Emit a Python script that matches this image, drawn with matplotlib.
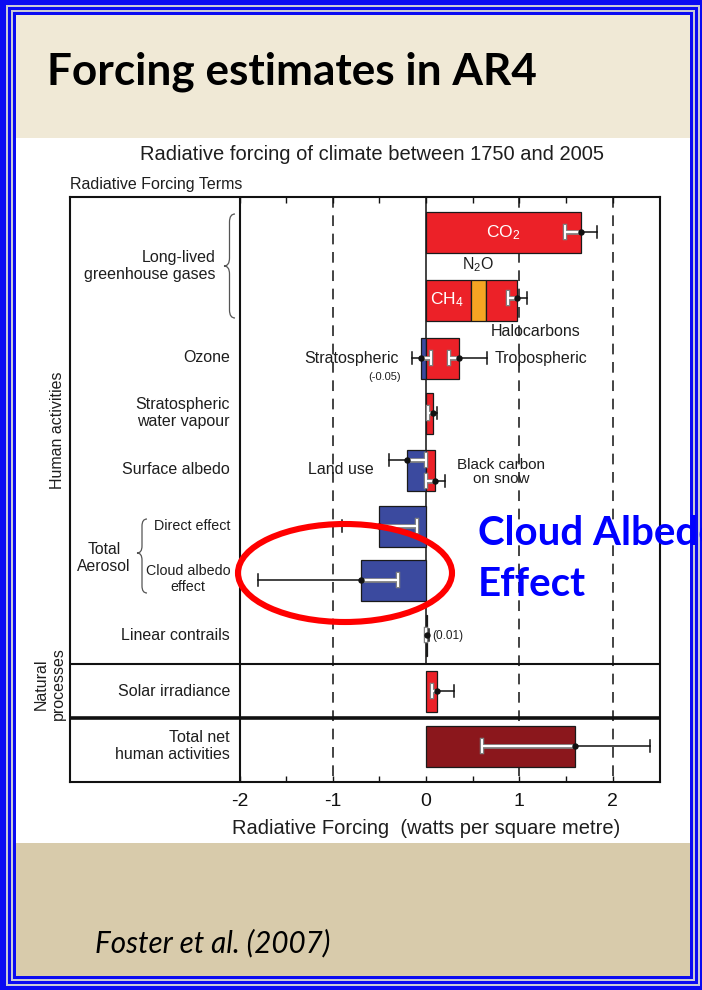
import matplotlib.pyplot as plt
from matplotlib.patches import Rectangle, Ellipse, PathPatch
from matplotlib.path import Path

plt.rcParams['font.family'] = ['Liberation Sans', 'DejaVu Sans']
plt.rcParams['axes.unicode_minus'] = False
plt.rcParams['mathtext.fontset'] = 'custom'
plt.rcParams['mathtext.rm'] = 'Liberation Sans'
plt.rcParams['mathtext.it'] = 'Liberation Sans:italic'

# radiative forcing terms, W m-2 : (best estimate, low, high)
co2 = (1.66, 1.49, 1.83)
ch4 = 0.48
n2o = 0.16
halocarbons = 0.34
llghg = (0.98, 0.88, 1.08)
ozone_strat = (-0.05, -0.15, 0.05)
ozone_trop = (0.35, 0.25, 0.65)
strat_h2o = (0.07, 0.02, 0.12)
land_use = (-0.2, -0.4, 0.0)
bc_snow = (0.1, 0.0, 0.2)
aer_direct = (-0.5, -0.9, -0.1)
aer_cloud = (-0.7, -1.8, -0.3)
contrails = (0.01, 0.003, 0.03)
solar = (0.12, 0.06, 0.30)
total_net = (1.6, 0.6, 2.4)

x_ticks = [-2, -1, 0, 1, 2]
x_minor = [-1.5, -0.5, 0.5, 1.5]

RED = '#EC2128'
BLUE = '#3B4A9F'
ORANGE = '#F6A423'
DARKRED = '#8B171C'
TXT = '#1e1e1e'

W, H = 702, 990
X0_PX, PX_PER_UNIT = 426, 93.25


def px2x(p):
    return (p - X0_PX) / PX_PER_UNIT


fig = plt.figure(figsize=(W / 100, H / 100), dpi=100)

# slide background: blue frame, cream header, white plot area, beige footer
bg = fig.add_axes([0, 0, 1, 1])
bg.set_xlim(0, W)
bg.set_ylim(H, 0)
bg.axis('off')
cx0, cy0, cx1, cy1 = 16, 15, 690, 976
for d, c in [(30, '#0A0AF2'), (10, '#C9C9D6'), (8, '#0A0AF2'), (5, '#C9C9D6'), (3, '#0A0AF2')]:
    bg.add_patch(Rectangle((cx0 - d, cy0 - d), cx1 - cx0 + 2 * d, cy1 - cy0 + 2 * d, fc=c, ec='none'))
bg.add_patch(Rectangle((cx0, cy0), cx1 - cx0, 138 - cy0, fc='#F0E9D6', ec='none'))
bg.add_patch(Rectangle((cx0, 138), cx1 - cx0, 843 - 138, fc='white', ec='none'))
bg.add_patch(Rectangle((cx0, 843), cx1 - cx0, cy1 - 843, fc='#D8CBAB', ec='none'))

bg.text(47, 85, 'Forcing estimates in AR4', fontsize=31.8, fontweight='bold',
        family='Lato', ha='left', va='baseline', color='black')
bg.text(95, 952, 'Foster et al. (2007)', fontsize=21.3, style='italic',
        family='Lato', ha='left', va='baseline', color='black')
bg.text(372, 155, 'Radiative forcing of climate between 1750 and 2005',
        fontsize=14.5, ha='center', va='center', color=TXT)
bg.text(70, 184, 'Radiative Forcing Terms', fontsize=11.5, ha='left', va='center', color=TXT)

# chart axes: y runs in pixel rows, x in W m-2
ax = fig.add_axes([70 / W, 1 - 782 / H, 590 / W, 585 / H])
ax.set_facecolor('none')
ax.set_xlim(px2x(70), px2x(660))
ax.set_ylim(782, 197)
for s in ax.spines.values():
    s.set_linewidth(1.5)
    s.set_color('#111111')
ax.set_yticks([])
ax.set_xticks(x_ticks)
ax.set_xticks(x_minor, minor=True)
ax.tick_params(axis='x', which='both', direction='in', top=True, length=4,
               width=1, labelsize=14, pad=8, colors='#111111')
ax.set_xlabel('Radiative Forcing  (watts per square metre)', fontsize=14.5, color=TXT, va='center')
ax.xaxis.set_label_coords((426 - 70) / 590, -(828 - 782) / 585)

# frame pieces
ax.axvline(-2, color='#111111', lw=1.5)
ax.axhline(664, color='#111111', lw=1.5)
ax.axhline(718, color='#111111', lw=2.6)
ax.vlines([-1, 1, 2], 197, 782, colors='#111111', lw=1.1, linestyles=(0, (7, 5)), zorder=1)
ax.vlines(0, 197, 664, colors='#111111', lw=1.1, zorder=1)

# row centres (pixel rows)
y_co2, y_ghg, y_o3, y_h2o, y_alb = 232, 300, 358, 413, 470
y_dir, y_cld, y_con, y_sol, y_tot = 526, 580, 635, 691, 746
BH = 41


def bar(y, width, color, left=0):
    ax.barh(y, width, left=left, height=BH, color=color, edgecolor='#1a1a1a', lw=0.9, zorder=3)


def err(est, y, span):
    v, lo, hi = est
    a, b = span
    if lo < a:
        ax.plot([lo, min(a, hi)], [y, y], color='#111111', lw=1.1, zorder=4)
    if hi > b:
        ax.plot([max(b, lo), hi], [y, y], color='#111111', lw=1.1, zorder=4)
    wlo, whi = max(lo, a), min(hi, b)
    if whi > wlo:
        ax.plot([wlo, whi], [y, y], color='#808080', lw=3.4, zorder=4, solid_capstyle='butt')
        ax.plot([wlo, whi], [y, y], color='white', lw=1.6, zorder=5, solid_capstyle='butt')
    for end in (lo, hi):
        if a <= end <= b:
            ax.plot([end, end], [y - 6, y + 6], color='#808080', lw=3.2, zorder=4)
            ax.plot([end, end], [y - 6, y + 6], color='white', lw=1.4, zorder=5)
        else:
            ax.plot([end, end], [y - 6, y + 6], color='#111111', lw=1.1, zorder=4)
    ax.plot(v, y, 'o', ms=3.6, color='#111111', zorder=6)


bar(y_co2, co2[0], RED)
err(co2, y_co2, (0, co2[0]))

bar(y_ghg, ch4, RED)
bar(y_ghg, n2o, ORANGE, left=ch4)
bar(y_ghg, halocarbons, RED, left=ch4 + n2o)
err(llghg, y_ghg - 2, (0, ch4 + n2o + halocarbons))

bar(y_o3, ozone_strat[0], BLUE)
bar(y_o3, ozone_trop[0], RED)
err(ozone_strat, y_o3, (ozone_strat[0], ozone_trop[0]))
err(ozone_trop, y_o3, (ozone_strat[0], ozone_trop[0]))

bar(y_h2o, strat_h2o[0], RED)
err(strat_h2o, y_h2o, (0, strat_h2o[0]))

bar(y_alb, land_use[0], BLUE)
bar(y_alb, bc_snow[0], RED)
err(land_use, y_alb - 10, (land_use[0], bc_snow[0]))
err(bc_snow, y_alb + 11, (land_use[0], bc_snow[0]))

bar(y_dir, aer_direct[0], BLUE)
err(aer_direct, y_dir, (aer_direct[0], 0))

bar(y_cld, aer_cloud[0], BLUE)
err(aer_cloud, y_cld, (aer_cloud[0], 0))

bar(y_con, contrails[0], RED)
err(contrails, y_con, (0, contrails[0]))

bar(y_sol, solar[0], RED)
err(solar, y_sol, (0, solar[0]))

bar(y_tot, total_net[0], DARKRED)
err(total_net, y_tot, (0, total_net[0]))

# labels inside the plot
ax.text(px2x(503), y_co2 + 1, 'CO$_2$', color='white', fontsize=12.5, ha='center', va='center', zorder=7)
ax.text(px2x(447), y_ghg, 'CH$_4$', color='white', fontsize=12.5, ha='center', va='center', zorder=7)
ax.text(px2x(478), 265, 'N$_2$O', color=TXT, fontsize=11.5, ha='center', va='center')
ax.text(px2x(491), 331, 'Halocarbons', color=TXT, fontsize=11.5, ha='left', va='center')
ax.text(px2x(399), y_o3, 'Stratospheric', color=TXT, fontsize=11.5, ha='right', va='center')
ax.text(px2x(385), 377, '(-0.05)', color=TXT, fontsize=8, ha='center', va='center')
ax.text(px2x(495), y_o3, 'Tropospheric', color=TXT, fontsize=11.5, ha='left', va='center')
ax.text(px2x(374), 469, 'Land use', color=TXT, fontsize=11.5, ha='right', va='center')
ax.text(px2x(501), 472, 'Black carbon\non snow', color=TXT, fontsize=11, ha='center',
        va='center', linespacing=0.95)
ax.text(px2x(432), 636, '(0.01)', color=TXT, fontsize=8.5, ha='left', va='center')

# row labels on the left panel
lab_x = px2x(230)
ax.text(px2x(216), 266, 'Long-lived\ngreenhouse gases', fontsize=11.5, ha='right', va='center',
        color=TXT, multialignment='right')
ax.text(lab_x, y_o3, 'Ozone', fontsize=11.5, ha='right', va='center', color=TXT)
ax.text(lab_x, y_h2o, 'Stratospheric\nwater vapour', fontsize=11.5, ha='right', va='center',
        color=TXT, multialignment='right')
ax.text(lab_x, y_alb, 'Surface albedo', fontsize=11.5, ha='right', va='center', color=TXT)
ax.text(lab_x, y_dir, 'Direct effect', fontsize=10.3, ha='right', va='center', color=TXT)
ax.text(px2x(188), 579, 'Cloud albedo\neffect', fontsize=10.3, ha='center', va='center',
        color=TXT, linespacing=1.1)
ax.text(px2x(104), 558, 'Total\nAerosol', fontsize=11.3, ha='center', va='center', color=TXT)
ax.text(lab_x, y_con, 'Linear contrails', fontsize=11.5, ha='right', va='center', color=TXT)
ax.text(lab_x, y_sol, 'Solar irradiance', fontsize=11.5, ha='right', va='center', color=TXT)
ax.text(lab_x, y_tot, 'Total net\nhuman activities', fontsize=11.5, ha='right', va='center',
        color=TXT, multialignment='right')
ax.text(px2x(57), 430, 'Human activities', fontsize=11.5, rotation=90, ha='center',
        va='center', color=TXT, clip_on=False)
ax.text(px2x(50), 684, 'Natural\nprocesses', fontsize=11.5, rotation=90, ha='center',
        va='center', color=TXT, clip_on=False)


def brace(x_tip, x_end, y0, y1, y_mid, r):
    xm = (x_tip + x_end) / 2
    verts = [(x_end, y0), (xm, y0), (xm, y0 + r),
             (xm, y_mid - r),
             (xm, y_mid), (x_tip, y_mid),
             (xm, y_mid), (xm, y_mid + r),
             (xm, y1 - r),
             (xm, y1), (x_end, y1)]
    codes = [Path.MOVETO, Path.CURVE3, Path.CURVE3, Path.LINETO,
             Path.CURVE3, Path.CURVE3, Path.CURVE3, Path.CURVE3,
             Path.LINETO, Path.CURVE3, Path.CURVE3]
    ax.add_patch(PathPatch(Path(verts, codes), fill=False, ec='#555555', lw=0.9))


brace(px2x(224), px2x(235), 214, 318, 266, 8)
brace(px2x(137), px2x(147), 519, 593, 553, 7)

# highlight overlay
ov = fig.add_axes([0, 0, 1, 1], zorder=5)
ov.set_xlim(0, W)
ov.set_ylim(H, 0)
ov.axis('off')
ov.add_patch(Ellipse((345, 573), 214, 98, fill=False, ec='#FF0000', lw=4.4))
ov.text(478, 545, 'Cloud Albedo', fontsize=29, fontweight='bold', family='Lato',
        color='#0000FF', ha='left', va='baseline')
ov.text(478, 596, 'Effect', fontsize=29, fontweight='bold', family='Lato',
        color='#0000FF', ha='left', va='baseline')

fig.savefig('out.png', dpi=100)
